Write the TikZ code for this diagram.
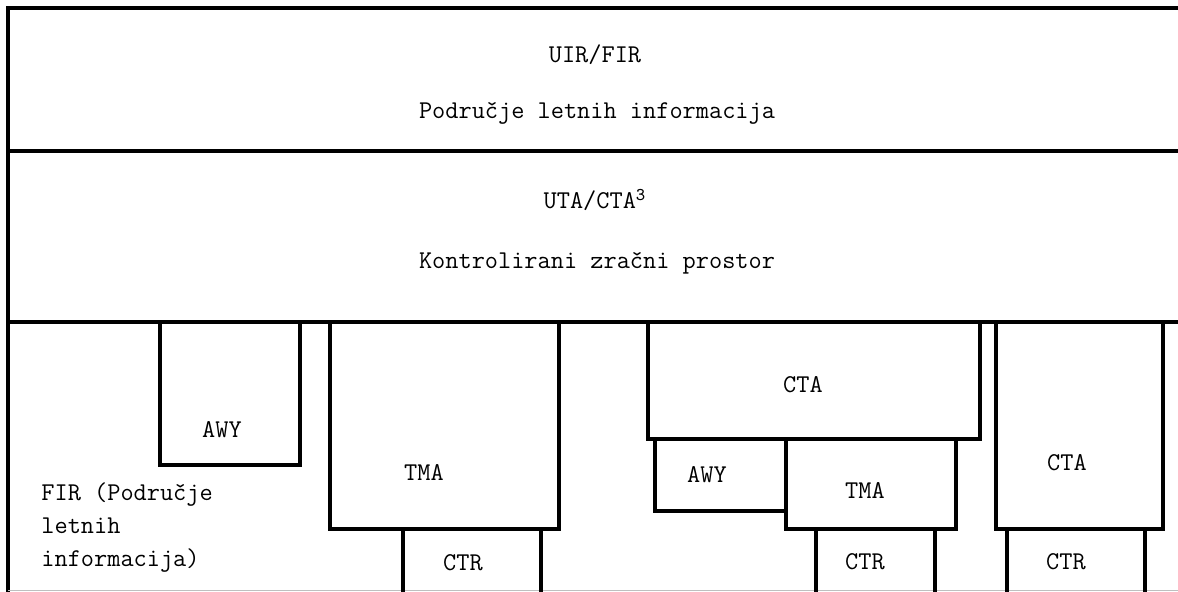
\documentclass[tikz,border=0pt]{standalone}
\usepackage{fontspec}
\usepackage{tikz}

\begin{document}
\begin{tikzpicture}[x=0.5pt,y=-0.5pt,
		zone/.style={line width=1.6pt},
		lbl/.style={font=\ttfamily\fontsize{12.8}{16.5}\selectfont, inner sep=0pt}]
		%%%%% START %%%%%
		\useasboundingbox (0,0) rectangle (1178,592);
		
		% frame and the two upper layers
		\draw[zone] (1178,8) -- (8,8) -- (8,592);
		\draw[zone] (8,151) -- (1178,151);
		\draw[zone] (8,322) -- (1178,322);
		\draw[line width=0.5pt, color=black!25] (8,591) -- (1178,591);
		
		\node[lbl] (uir) at (595,55) {UIR/FIR};
		\node[lbl] (fic) at (597,113) {Područje letnih informacija};
		\node[lbl] (uta) at (595,200) {UTA/CTA\textsuperscript{3}};
		\node[lbl] (kzp) at (597,263) {Kontrolirani zračni prostor};
		
		% left group
		\draw[zone] (160,322) -- (160,465) -- (300,465) -- (300,322);
		\draw[zone] (330,322) -- (330,529) -- (559,529) -- (559,322);
		\draw[zone] (403,592) -- (403,529);
		\draw[zone] (541,592) -- (541,529);
		
		\node[lbl] (awyA) at (222,430) {AWY};
		\node[lbl] (tmaA) at (424,473) {TMA};
		\node[lbl] (ctrA) at (463,563) {CTR};
		\node[lbl, anchor=west, align=left] (fir) at (41,528) {FIR (Područje\\letnih\\informacija)};
		
		% middle group
		\draw[zone] (648,322) -- (648,439) -- (980,439) -- (980,322);
		\draw[zone] (655,439) -- (655,511) -- (786,511);
		\draw[zone] (786,439) -- (786,529) -- (956,529) -- (956,439);
		\draw[zone] (816,592) -- (816,529);
		\draw[zone] (935,592) -- (935,529);
		
		\node[lbl] (ctaB) at (803,385) {CTA};
		\node[lbl] (awyB) at (707,475) {AWY};
		\node[lbl] (tmaB) at (865,491) {TMA};
		\node[lbl] (ctrB) at (865,562) {CTR};
		
		% right group
		\draw[zone] (996,322) -- (996,529) -- (1163,529) -- (1163,322);
		\draw[zone] (1007,592) -- (1007,529);
		\draw[zone] (1145,592) -- (1145,529);
		
		\node[lbl] (ctaC) at (1067,463) {CTA};
		\node[lbl] (ctrC) at (1066,562) {CTR};
		
		%%%%% END %%%%%
\end{tikzpicture}
\end{document}
